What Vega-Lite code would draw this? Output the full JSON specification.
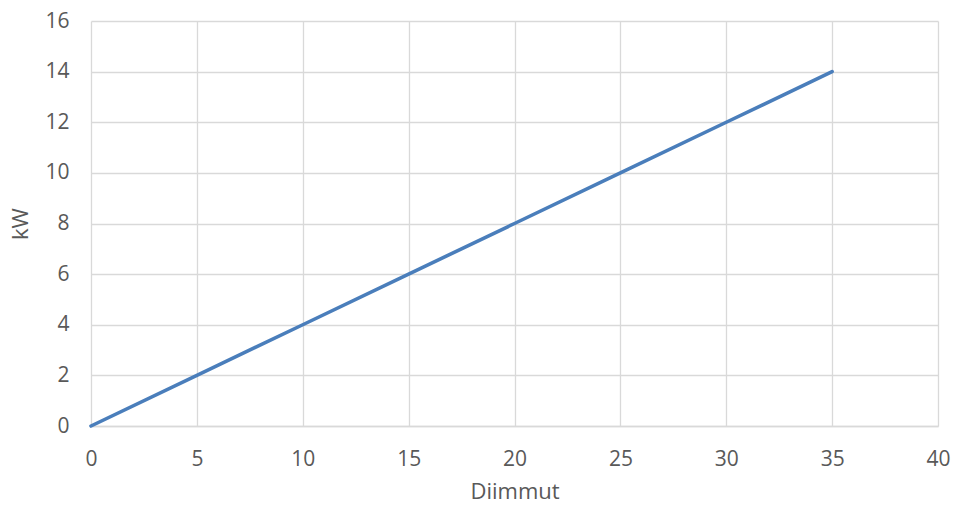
{
  "$schema": "https://vega.github.io/schema/vega-lite/v6.json",
  "autosize": {"type": "none"},
  "width": 847,
  "height": 405,
  "padding": {"left": 91, "top": 21, "right": 17, "bottom": 80},
  "background": "white",
  "config": {
    "view": {"stroke": null},
    "font": "Open Sans"
  },
  "data": {
    "values": [
      {"Diimmut": 0, "kW": 0},
      {"Diimmut": 5, "kW": 2},
      {"Diimmut": 10, "kW": 4},
      {"Diimmut": 15, "kW": 6},
      {"Diimmut": 20, "kW": 8},
      {"Diimmut": 25, "kW": 10},
      {"Diimmut": 30, "kW": 12},
      {"Diimmut": 35, "kW": 14}
    ]
  },
  "mark": {"type": "line", "color": "#4a7ebb", "strokeWidth": 3.6, "strokeCap": "round"},
  "encoding": {
    "x": {
      "field": "Diimmut", "type": "quantitative",
      "scale": {"domain": [0, 40], "nice": false},
      "axis": {
        "values": [0, 5, 10, 15, 20, 25, 30, 35, 40],
        "title": "Diimmut",
        "grid": true, "gridColor": "#d9d9d9", "gridWidth": 1.3,
        "domain": true, "domainColor": "#d9d9d9", "domainWidth": 1.3,
        "ticks": false, "labelFlush": false,
        "labelFontSize": 21, "labelColor": "#595959", "labelPadding": 22,
        "titleFontSize": 22, "titleColor": "#595959", "titleFontWeight": "normal", "titlePadding": 12
      }
    },
    "y": {
      "field": "kW", "type": "quantitative",
      "scale": {"domain": [0, 16], "nice": false},
      "axis": {
        "values": [0, 2, 4, 6, 8, 10, 12, 14, 16],
        "title": "kW",
        "grid": true, "gridColor": "#d9d9d9", "gridWidth": 1.3,
        "domain": false,
        "ticks": false, "labelFlush": false,
        "labelFontSize": 21, "labelColor": "#595959", "labelPadding": 22,
        "titleFontSize": 22, "titleColor": "#595959", "titleFontWeight": "normal", "titlePadding": 12
      }
    }
  }
}
